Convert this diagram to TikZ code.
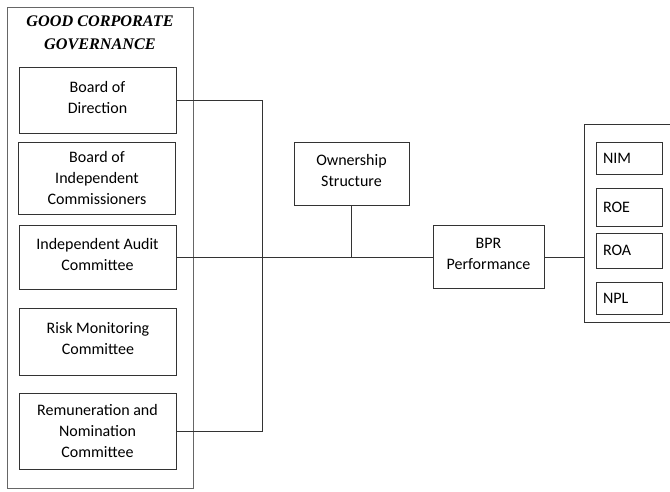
\documentclass[tikz,border=0pt]{standalone}
\usepackage{fontspec}
\setmainfont{Carlito}
\newfontfamily\titlefont{Liberation Serif}
\usepackage{tikz}
\usetikzlibrary{positioning}

\begin{document}
\begin{tikzpicture}[%
        x=1pt, y=-1pt,
        line width=0.8pt,
        every node/.style={draw=black!80, inner sep=0pt, font=\fontsize{16}{21}\selectfont, align=center},
        varbox/.style={minimum width=157pt},
        upshift/.style={text depth=6pt},
        metricbox/.style={minimum width=66pt, text width=52pt, align=left},
        groupbox/.style={draw=black!60}
    ]
    \clip (0,0) rectangle (670,491);

    % --- Good Corporate Governance ---
    \node[groupbox, minimum width=186pt, minimum height=481pt] (gcg) at (100,247.5) {};
    \node[draw=none, font=\titlefont\fontsize{16.2}{23}\selectfont\bfseries\itshape] (title) at (100,33) {GOOD CORPORATE\\GOVERNANCE};

    \node[varbox, upshift, minimum height=66pt] (dir) at (97.5,100) {Board of\\Direction};
    \node[varbox, minimum height=72pt] (bic) at (97,178) {Board of\\Independent\\Commissioners};
    \node[varbox, upshift, minimum height=64pt] (audit) at (97.5,257) {Independent Audit\\Committee};
    \node[varbox, upshift, minimum height=67pt] (risk) at (98,341.5) {Risk Monitoring\\Committee};
    \node[varbox, minimum height=76pt] (rem) at (97.5,431) {Remuneration and\\Nomination\\Committee};

    % --- Ownership and performance ---
    \node[upshift, minimum width=115pt, minimum height=63pt] (own) at (351.5,173.5) {Ownership\\Structure};
    \node[upshift, minimum width=111pt, minimum height=63pt] (bpr) at (488.5,257) {BPR\\Performance};

    % --- Indicators ---
    \node[minimum width=120pt, minimum height=198pt] (perf) at (644,223) {};
    \node[metricbox, minimum height=32pt] (nim) at (629,158) {NIM};
    \node[metricbox, minimum height=38pt] (roe) at (629,207) {ROE};
    \node[metricbox, minimum height=35pt] (roa) at (629,250.5) {ROA};
    \node[metricbox, minimum height=32pt] (npl) at (629,298) {NPL};

    % --- Connectors ---
    \coordinate (bus) at (262,100);
    \draw[black!80] (dir.east) -- (bus) |- (rem.east);
    \draw[black!80] (audit.east) -- (audit.east -| bpr.west);
    \draw[black!80] (own.south) -- (own.south |- audit.east);
    \draw[black!80] (bpr.east) -- (bpr.east -| perf.west);
\end{tikzpicture}
\end{document}
